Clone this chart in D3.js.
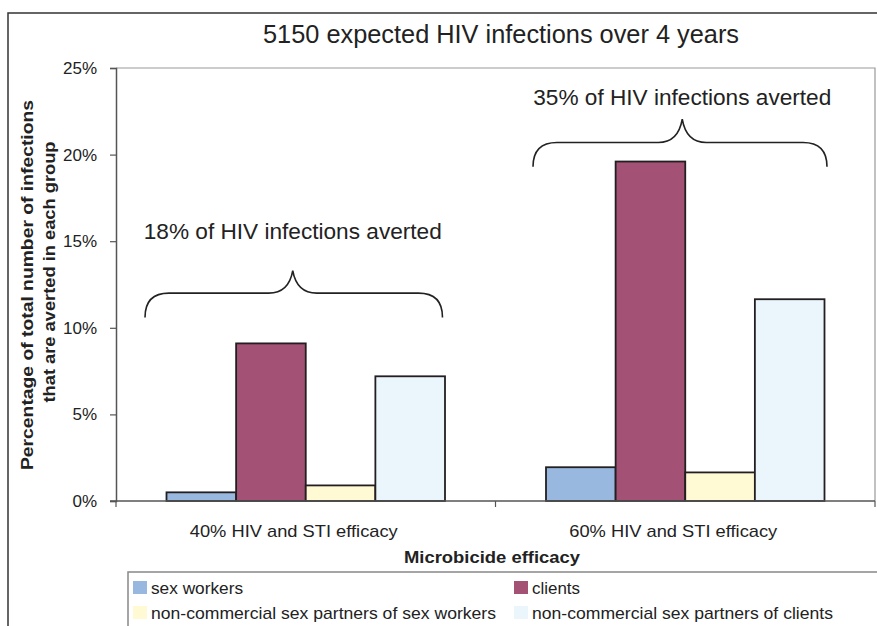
<!DOCTYPE html>
<html>
<head>
<meta charset="utf-8">
<script src="https://cdn.jsdelivr.net/npm/d3@7"></script>
<style>
  body { margin: 0; background: #fff; }
  svg { display: block; font-family: "Liberation Sans", Arial, sans-serif; }
</style>
</head>
<body>
<div class="chart"></div>
<script>
// Chart data
var categories = ["40% HIV and STI efficacy", "60% HIV and STI efficacy"];
var seriesNames = ["sex workers", "clients",
    "non-commercial sex partners of sex workers", "non-commercial sex partners of clients"];
var sexWorkers = [0.5, 1.95];
var clients = [9.1, 19.6];
var partnersOfSexWorkers = [0.9, 1.65];
var partnersOfClients = [7.2, 11.65];
var yTicks = [0, 5, 10, 15, 20, 25];
var braceLabels = ["18% of HIV infections averted", "35% of HIV infections averted"];
// brace levels in axis units: end of arms, horizontal part, tip, label baseline
var braceEnd = [10.6, 19.3];
var braceMid = [12.0, 20.7];
var braceTip = [13.3, 22.05];
var braceText = [15.1, 22.85];

var colors = ["#99b8e0", "#a35174", "#fffad4", "#ebf5fc"];
var seriesValues = [sexWorkers, clients, partnersOfSexWorkers, partnersOfClients];

var svgWidth = 877, svgHeight = 626;
var margin = { top: 68, right: 2, bottom: 125, left: 116 };
var width = svgWidth - margin.left - margin.right;
var height = svgHeight - margin.top - margin.bottom;

var svg = d3.select(".chart").append("svg")
    .attr("width", svgWidth)
    .attr("height", svgHeight);

// fit a text to the width it has in the original
function fit(sel, w) {
    sel.attr("textLength", w).attr("lengthAdjust", "spacingAndGlyphs");
}

// outer frame (runs off the right and bottom edges)
svg.append("rect")
    .attr("x", 8).attr("y", 13)
    .attr("width", svgWidth).attr("height", svgHeight)
    .attr("fill", "none").attr("stroke", "#333").attr("stroke-width", 1.5);

var chart = svg.append("g")
    .attr("transform", "translate(" + margin.left + "," + margin.top + ")");

var x0 = d3.scaleBand().domain(categories).range([0, width]);
var groupPad = 50.5;
var x1 = d3.scaleBand().domain(seriesNames)
    .range([groupPad, x0.bandwidth() - groupPad]);
var y = d3.scaleLinear().domain([0, 25]).range([height, 0]);

// plot area border (top and right, grey)
chart.append("path")
    .attr("d", "M0," + y(25) + "H" + width + "V" + y(0))
    .attr("fill", "none").attr("stroke", "#999").attr("stroke-width", 1.2);

// bars
var rows = categories.map(function(c, i) {
    return seriesNames.map(function(s, j) {
        return { cat: c, name: s, value: seriesValues[j][i], color: colors[j] };
    });
});

chart.selectAll(".group")
    .data(rows)
    .enter()
    .append("g")
    .attr("class", "group")
    .attr("transform", function(d, i) { return "translate(" + x0(categories[i]) + ",0)"; })
    .selectAll("rect")
    .data(function(d) { return d; })
    .enter()
    .append("rect")
    .attr("x", function(d) { return x1(d.name); })
    .attr("y", function(d) { return y(d.value); })
    .attr("width", x1.bandwidth())
    .attr("height", function(d) { return y(0) - y(d.value); })
    .attr("fill", function(d) { return d.color; })
    .attr("stroke", "#231f20")
    .attr("stroke-width", 1.8);

// y axis
var leftAxis = d3.axisLeft(y).tickValues(yTicks)
    .tickFormat(function(d) { return d + "%"; })
    .tickSize(6).tickPadding(13);
var yAxis = chart.append("g").attr("class", "y-axis").call(leftAxis);
yAxis.select(".domain").attr("stroke", "#555").attr("stroke-width", 1.5);
yAxis.selectAll(".tick line").attr("stroke", "#555").attr("stroke-width", 1.2);
yAxis.selectAll("text")
    .style("font-size", "17px")
    .style("font-family", "'Liberation Sans', Arial, sans-serif")
    .attr("fill", "#222");

// x axis: ticks at the band edges
chart.append("line")
    .attr("x1", -6).attr("x2", width)
    .attr("y1", y(0)).attr("y2", y(0))
    .attr("stroke", "#555").attr("stroke-width", 1.5);
var edges = categories.map(function(c) { return x0(c); }).concat([width]);
chart.selectAll(".xtick")
    .data(edges)
    .enter()
    .append("line")
    .attr("class", "xtick")
    .attr("x1", function(d) { return d; }).attr("x2", function(d) { return d; })
    .attr("y1", y(0)).attr("y2", y(0) + 6)
    .attr("stroke", "#555").attr("stroke-width", 1.2);

chart.selectAll(".xlabel")
    .data(categories)
    .enter()
    .append("text")
    .attr("class", "xlabel")
    .attr("x", function(d) { return x0(d) + x0.bandwidth() / 2 - 12; })
    .attr("y", y(0) + 36)
    .attr("text-anchor", "middle")
    .style("font-size", "17px")
    .attr("fill", "#222")
    .text(function(d) { return d; })
    .call(fit, 208);

// braces
function bracePath(xa, xb, xt, yEnd, yMid, yTip) {
    var r = 24;
    return "M" + xa + "," + yEnd +
        "Q" + xa + "," + yMid + " " + (xa + r) + "," + yMid +
        "L" + (xt - r) + "," + yMid +
        "Q" + (xt - 4) + "," + yMid + " " + xt + "," + yTip +
        "Q" + (xt + 4) + "," + yMid + " " + (xt + r) + "," + yMid +
        "L" + (xb - r) + "," + yMid +
        "Q" + xb + "," + yMid + " " + xb + "," + yEnd;
}
var braceLeft = [29, 37.5];
var braceRight = [53, 48];
var braceShift = [-13, -3];

categories.forEach(function(c, i) {
    var xa = x0(c) + braceLeft[i];
    var xb = x0(c) + x0.bandwidth() - braceRight[i];
    var xt = x0(c) + x0.bandwidth() / 2 + braceShift[i];
    chart.append("path")
        .attr("d", bracePath(xa, xb, xt, y(braceEnd[i]), y(braceMid[i]), y(braceTip[i])))
        .attr("fill", "none")
        .attr("stroke", "#222")
        .attr("stroke-width", 1.6);
    chart.append("text")
        .attr("x", xt)
        .attr("y", y(braceText[i]))
        .attr("text-anchor", "middle")
        .style("font-size", "22px")
        .attr("fill", "#222")
        .text(braceLabels[i])
        .call(fit, 298);
});

// title
svg.append("text")
    .attr("x", 501)
    .attr("y", 43)
    .attr("text-anchor", "middle")
    .style("font-size", "25px")
    .attr("fill", "#222")
    .text("5150 expected HIV infections over 4 years")
    .call(fit, 476);

// y axis title
var yTitle = svg.append("g")
    .attr("transform", "translate(0," + 280 + ") rotate(-90)");
yTitle.append("text")
    .attr("x", -5).attr("y", 33)
    .attr("text-anchor", "middle")
    .style("font-size", "16px").style("font-weight", "bold")
    .attr("fill", "#222")
    .text("Percentage of total number of infections")
    .call(fit, 370);
yTitle.append("text")
    .attr("x", 8).attr("y", 55)
    .attr("text-anchor", "middle")
    .style("font-size", "16px").style("font-weight", "bold")
    .attr("fill", "#222")
    .text("that are averted in each group")
    .call(fit, 261);

// x axis title
svg.append("text")
    .attr("x", 492)
    .attr("y", 563)
    .attr("text-anchor", "middle")
    .style("font-size", "17px").style("font-weight", "bold")
    .attr("fill", "#222")
    .text("Microbicide efficacy")
    .call(fit, 176);

// legend box (runs off the right and bottom edges)
svg.append("rect")
    .attr("x", 128).attr("y", 572)
    .attr("width", svgWidth).attr("height", 100)
    .attr("fill", "none").attr("stroke", "#888").attr("stroke-width", 1.5);

var legendX = [133, 514];
var legendY = [594, 619];
var legendW = [92, 48, 345, 301];
var legend = svg.selectAll(".legend")
    .data(seriesNames)
    .enter()
    .append("g")
    .attr("class", "legend")
    .attr("transform", function(d, i) {
        return "translate(" + legendX[i % 2] + "," + legendY[Math.floor(i / 2)] + ")";
    });
legend.append("rect")
    .attr("x", 0).attr("y", -13)
    .attr("width", 14).attr("height", 13)
    .attr("fill", function(d, i) { return colors[i]; });
legend.append("text")
    .attr("x", 18).attr("y", 0)
    .style("font-size", "17px")
    .attr("fill", "#222")
    .text(function(d) { return d; })
    .each(function(d, i) { d3.select(this).call(fit, legendW[i]); });
</script>
</body>
</html>
